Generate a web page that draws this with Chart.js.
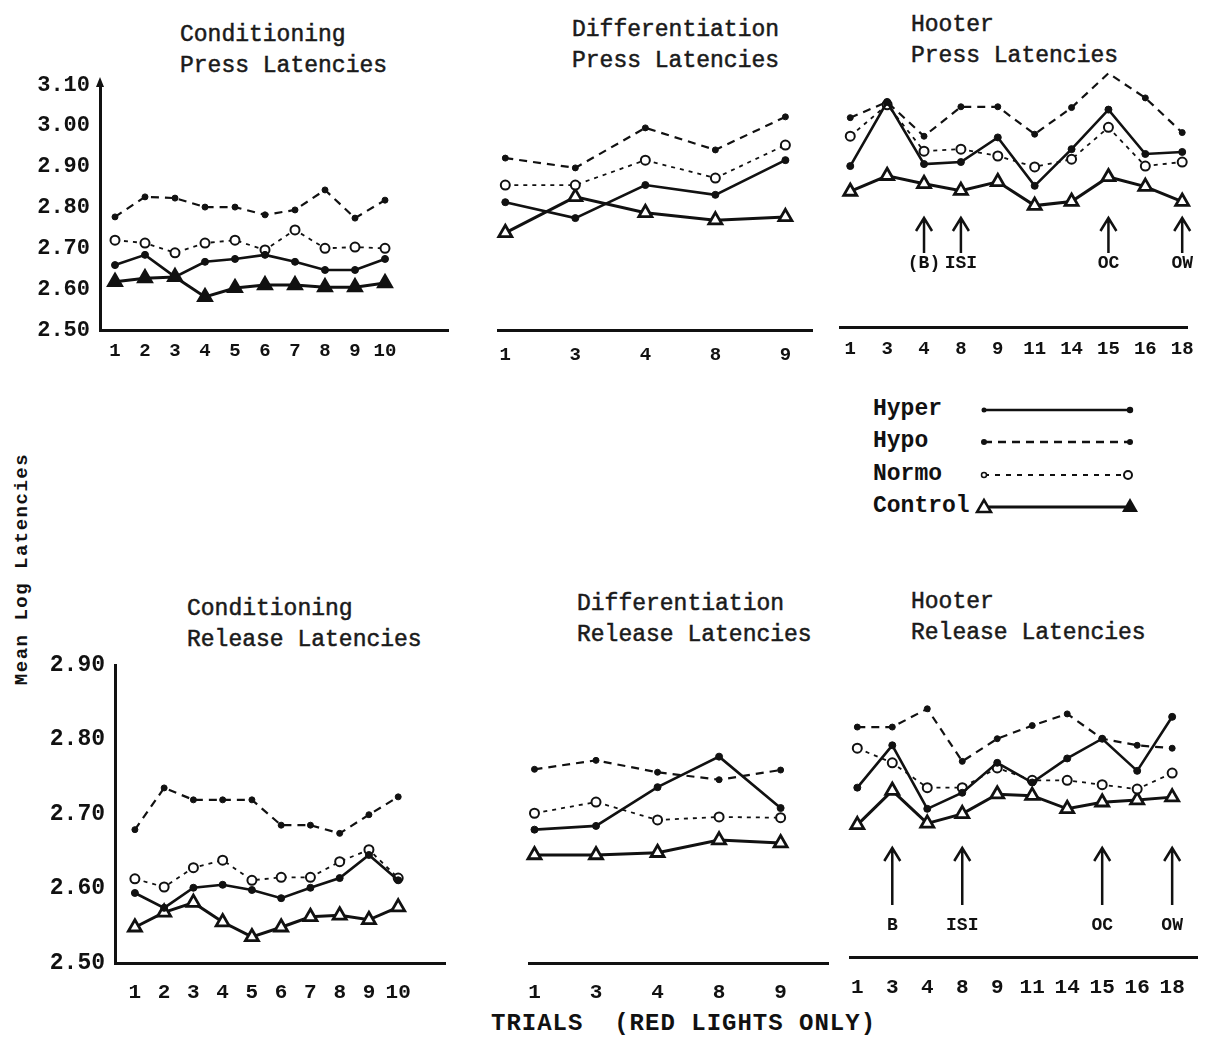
<!DOCTYPE html>
<html><head><meta charset="utf-8">
<script src="https://cdn.jsdelivr.net/npm/chart.js@4"></script>
<style>
body{margin:0;background:#fff;width:1213px;height:1040px;position:relative;overflow:hidden;font-family:"Liberation Mono",monospace;color:#111}
canvas{position:absolute}
.t{position:absolute;font-size:23px;line-height:31px;white-space:pre;color:#1a1a1a;-webkit-text-stroke:0.5px #1a1a1a}
#ytitle{position:absolute;left:-108px;top:558px;width:260px;text-align:center;transform:rotate(-90deg);font:bold 19px "Liberation Mono",monospace;letter-spacing:1.5px;white-space:pre}
#xtitle{position:absolute;left:491px;top:1010px;font:bold 24px "Liberation Mono",monospace;letter-spacing:1px;white-space:pre}
#legend{position:absolute;left:873px;top:393px;font:bold 23px "Liberation Mono",monospace;line-height:32.3px}
#legsvg{position:absolute;left:972px;top:394px}
</style></head><body>
<div class="t" style="left:180px;top:20px">Conditioning
Press Latencies</div>
<div class="t" style="left:572px;top:15px">Differentiation
Press Latencies</div>
<div class="t" style="left:911px;top:10px">Hooter
Press Latencies</div>
<div class="t" style="left:187px;top:594px">Conditioning
Release Latencies</div>
<div class="t" style="left:577px;top:589px">Differentiation
Release Latencies</div>
<div class="t" style="left:911px;top:587px">Hooter
Release Latencies</div>
<div id="ytitle">Mean Log Latencies</div>
<div id="xtitle">TRIALS  (RED LIGHTS ONLY)</div>
<div id="legend"></div>
<svg id="legsvg" width="175" height="130"></svg>
<script>
// ---- categories / tick labels ----
const condTrials = ['1','2','3','4','5','6','7','8','9','10'];
const diffTrials = ['1','3','4','8','9'];
const hootTrials = ['1','3','4','8','9','11','14','15','16','18'];
const groupNames = ['Hyper','Hypo','Normo','Control'];
const pressTicks = [2.5,2.6,2.7,2.8,2.9,3.0,3.1];
const releaseTicks = [2.5,2.6,2.7,2.8,2.9];
const hootPressMarks = ['(B)','ISI','OC','OW'];
const hootPressMarkAt = [2,3,7,9];
const hootReleaseMarks = ['B','ISI','OC','OW'];
const hootReleaseMarkAt = [1,3,7,9];

// ---- Conditioning, press latencies ----
const condPressHyper   = [2.659,2.684,2.630,2.667,2.674,2.684,2.667,2.647,2.647,2.674];
const condPressHypo    = [2.777,2.826,2.823,2.801,2.801,2.782,2.794,2.843,2.774,2.818];
const condPressNormo   = [2.720,2.713,2.689,2.713,2.720,2.696,2.745,2.700,2.703,2.700];
const condPressControl = [2.618,2.627,2.630,2.581,2.603,2.610,2.610,2.605,2.605,2.615];
// ---- Differentiation, press latencies ----
const diffPressHyper   = [2.813,2.774,2.855,2.831,2.916];
const diffPressHypo    = [2.921,2.897,2.995,2.941,3.022];
const diffPressNormo   = [2.855,2.855,2.916,2.872,2.953];
const diffPressControl = [2.738,2.826,2.787,2.769,2.777];
// ---- Hooter, press latencies ----
const hootPressHyper   = [2.899,3.058,2.904,2.909,2.970,2.850,2.941,3.039,2.929,2.934];
const hootPressHypo    = [3.019,3.058,2.973,3.046,3.046,2.978,3.044,3.129,3.068,2.982];
const hootPressNormo   = [2.973,3.051,2.936,2.941,2.924,2.897,2.916,2.995,2.899,2.909];
const hootPressControl = [2.836,2.875,2.855,2.838,2.860,2.801,2.811,2.872,2.848,2.811];
// ---- Conditioning, release latencies ----
const condRelHyper   = [2.594,2.574,2.601,2.605,2.598,2.587,2.601,2.614,2.645,2.611];
const condRelHypo    = [2.679,2.735,2.719,2.719,2.719,2.685,2.685,2.674,2.699,2.723];
const condRelNormo   = [2.613,2.602,2.628,2.638,2.611,2.615,2.615,2.636,2.652,2.614];
const condRelControl = [2.548,2.568,2.581,2.555,2.535,2.548,2.562,2.564,2.558,2.575];
// ---- Differentiation, release latencies ----
const diffRelHyper   = [2.679,2.684,2.736,2.777,2.708];
const diffRelHypo    = [2.760,2.772,2.756,2.746,2.759];
const diffRelNormo   = [2.701,2.716,2.692,2.696,2.695];
const diffRelControl = [2.645,2.645,2.648,2.665,2.661];
// ---- Hooter, release latencies ----
const hootRelHyper   = [2.732,2.790,2.703,2.725,2.766,2.739,2.772,2.799,2.755,2.829];
const hootRelHypo    = [2.815,2.815,2.840,2.768,2.799,2.817,2.833,2.799,2.790,2.786];
const hootRelNormo   = [2.786,2.766,2.732,2.732,2.759,2.742,2.742,2.736,2.730,2.752];
const hootRelControl = [2.681,2.728,2.683,2.696,2.723,2.721,2.703,2.712,2.715,2.719];

const INK = '#111';
const styles = {
  Hyper:   {borderWidth:2.6, borderDash:[], pointStyle:'circle', pointRadius:3.5, pointBackgroundColor:INK, pointBorderWidth:1},
  Hypo:    {borderWidth:2.2, borderDash:[8,6], pointStyle:'circle', pointRadius:3, pointBackgroundColor:INK, pointBorderWidth:1},
  Normo:   {borderWidth:1.8, borderDash:[4,5], pointStyle:'circle', pointRadius:4.5, pointBackgroundColor:'#fff', pointBorderWidth:2},
  Control: {borderWidth:3, borderDash:[], pointStyle:'triangle', pointRadius:7.5, pointBackgroundColor:'#fff', pointBorderWidth:2.8}
};

const arrowPlugin = {
  id:'arrows',
  afterDatasetsDraw(chart, args, o){
    if(!o || !o.labels) return;
    const ctx = chart.ctx, xs = chart.scales.x, top = chart.chartArea.top;
    ctx.save(); ctx.strokeStyle = INK; ctx.fillStyle = INK; ctx.lineWidth = 2.5; ctx.setLineDash([]);
    o.labels.forEach((t,k)=>{
      const x = xs.getPixelForValue(o.at[k]);
      const y0 = top + o.tip, y1 = top + o.tail;
      ctx.beginPath(); ctx.moveTo(x,y1); ctx.lineTo(x,y0);
      ctx.moveTo(x-8,y0+13); ctx.lineTo(x,y0); ctx.lineTo(x+8,y0+13); ctx.stroke();
      ctx.font = o.font; ctx.textAlign = 'center'; ctx.textBaseline = 'middle';
      ctx.fillText(t, x, top + o.label);
    });
    ctx.restore();
  }
};
const yArrowPlugin = {
  id:'yArrow',
  afterDraw(chart, args, o){
    if(!o || !o.on) return;
    const ctx = chart.ctx, a = chart.chartArea;
    ctx.save(); ctx.fillStyle = INK;
    ctx.beginPath(); ctx.moveTo(a.left, a.top-8); ctx.lineTo(a.left-4, a.top+2); ctx.lineTo(a.left+4, a.top+2); ctx.closePath(); ctx.fill();
    ctx.restore();
  }
};
Chart.register(arrowPlugin, yArrowPlugin);

function makePanel(cfg){
  const c = document.createElement('canvas');
  const yW = cfg.showY ? cfg.yW : 0;
  const left = cfg.area.l - yW - 8, top = cfg.area.t - 40;
  const width = cfg.area.r + 12 - left, height = cfg.area.b + cfg.xH - top;
  c.width = width; c.height = height;
  c.style.left = left + 'px'; c.style.top = top + 'px';
  c.style.width = width + 'px'; c.style.height = height + 'px';
  document.body.appendChild(c);
  const datasets = groupNames.map((g,k)=>{
    const d = Object.assign({label:g, data: cfg.series[k].map((v,i)=>({x:i, y:v})),
      borderColor:INK, pointBorderColor:INK, tension:0, clip:false}, styles[g]);
    if(k===3 && cfg.controlFill) d.pointBackgroundColor = INK;
    return d;
  });
  new Chart(c, {
    type:'line',
    data:{datasets},
    options:{
      responsive:false, animation:false, devicePixelRatio:1,
      layout:{padding:{left:8, top:40, right:12, bottom:0}},
      plugins:{legend:{display:false}, tooltip:{enabled:false}, arrows: cfg.arrows || {}, yArrow:{on:!!cfg.yArrow}},
      scales:{
        x:{type:'linear', min:cfg.xmin, max:cfg.xmax,
           grid:{display:false}, border:{display:true, color:INK, width:3},
           afterBuildTicks: s=>{ s.ticks = cfg.labels.map((_,i)=>({value:i})); },
           afterFit: s=>{ s.height = cfg.xH; },
           ticks:{autoSkip:false, maxRotation:0, padding:cfg.xPad, color:INK, font:cfg.xFont,
                  callback:(v)=>cfg.labels[Math.round(v)]}},
        y:{type:'linear', display:cfg.showY, min:cfg.ymin, max:cfg.ymax,
           grid:{display:false}, border:{display:true, color:INK, width:3},
           afterBuildTicks: s=>{ s.ticks = cfg.yTicks.map(v=>({value:v})); },
           afterFit: s=>{ s.width = yW; },
           ticks:{padding:2, color:INK, font:cfg.yFont, callback:v=>Number(v).toFixed(2)}}
      }
    }
  });
}

const mono = 'Liberation Mono';
const topX = {family:mono, weight:'bold', size:19};
const botX = {family:mono, weight:'bold', size:21};
const topY = {family:mono, weight:'bold', size:22};
const botY = {family:mono, weight:'bold', size:23};

makePanel({area:{l:100,t:85,r:448,b:330}, showY:true, yW:92, yArrow:true, controlFill:true,
  labels:condTrials, series:[condPressHyper,condPressHypo,condPressNormo,condPressControl],
  xmin:-0.5, xmax:11.1, ymin:2.5, ymax:3.1, yTicks:pressTicks, xH:30, xPad:2, xFont:topX, yFont:topY});
makePanel({area:{l:496,t:85,r:812,b:330}, showY:false,
  labels:diffTrials, series:[diffPressHyper,diffPressHypo,diffPressNormo,diffPressControl],
  xmin:-0.1, xmax:4.38, ymin:2.5, ymax:3.1, yTicks:pressTicks, xH:34, xPad:6, xFont:topX, yFont:topY});
makePanel({area:{l:838,t:85,r:1187,b:327}, showY:false,
  labels:hootTrials, series:[hootPressHyper,hootPressHypo,hootPressNormo,hootPressControl],
  xmin:-0.27, xmax:9.13, ymin:2.5, ymax:3.1, yTicks:pressTicks, xH:30, xPad:3, xFont:topX, yFont:topY,
  arrows:{labels:hootPressMarks, at:hootPressMarkAt, tip:133, tail:168, label:178, font:'bold 18px "Liberation Mono"'}});

makePanel({area:{l:115,t:665,r:445,b:963}, showY:true, yW:100,
  labels:condTrials, series:[condRelHyper,condRelHypo,condRelNormo,condRelControl],
  xmin:-0.68, xmax:10.6, ymin:2.5, ymax:2.9, yTicks:releaseTicks, xH:40, xPad:9, xFont:botX, yFont:botY});
makePanel({area:{l:527,t:665,r:828,b:963}, showY:false,
  labels:diffTrials, series:[diffRelHyper,diffRelHypo,diffRelNormo,diffRelControl],
  xmin:-0.08, xmax:4.77, ymin:2.5, ymax:2.9, yTicks:releaseTicks, xH:40, xPad:9, xFont:botX, yFont:botY});
makePanel({area:{l:848,t:665,r:1197,b:957}, showY:false,
  labels:hootTrials, series:[hootRelHyper,hootRelHypo,hootRelNormo,hootRelControl],
  xmin:-0.2, xmax:9.71, ymin:2.5, ymax:2.9, yTicks:releaseTicks, xH:40, xPad:10, xFont:botX, yFont:botY,
  arrows:{labels:hootReleaseMarks, at:hootReleaseMarkAt, tip:183, tail:240, label:260, font:'bold 18px "Liberation Mono"'}});

// ---- legend ----
document.getElementById('legend').innerHTML = groupNames.join('<br>');
const svg = document.getElementById('legsvg');
const rowY = [16, 48, 81, 113];
let s = '';
s += `<line x1="12" y1="${rowY[0]}" x2="158" y2="${rowY[0]}" stroke="${INK}" stroke-width="2.5"/><circle cx="158" cy="${rowY[0]}" r="3.2" fill="${INK}"/><circle cx="12" cy="${rowY[0]}" r="2.5" fill="${INK}"/>`;
s += `<line x1="12" y1="${rowY[1]}" x2="158" y2="${rowY[1]}" stroke="${INK}" stroke-width="2.5" stroke-dasharray="8,6"/><circle cx="12" cy="${rowY[1]}" r="3" fill="${INK}"/><circle cx="158" cy="${rowY[1]}" r="3" fill="${INK}"/>`;
s += `<line x1="12" y1="${rowY[2]}" x2="152" y2="${rowY[2]}" stroke="${INK}" stroke-width="2" stroke-dasharray="5,6"/><circle cx="156" cy="${rowY[2]}" r="4" fill="#fff" stroke="${INK}" stroke-width="2"/><circle cx="12" cy="${rowY[2]}" r="2.5" fill="#fff" stroke="${INK}" stroke-width="1.5"/>`;
s += `<line x1="12" y1="${rowY[3]}" x2="158" y2="${rowY[3]}" stroke="${INK}" stroke-width="3"/><path d="M12 ${rowY[3]-7} L5 ${rowY[3]+5} L19 ${rowY[3]+5} Z" fill="#fff" stroke="${INK}" stroke-width="2.5"/><path d="M158 ${rowY[3]-9} L150 ${rowY[3]+5} L166 ${rowY[3]+5} Z" fill="${INK}"/>`;
svg.innerHTML = s;
</script>
</body></html>
